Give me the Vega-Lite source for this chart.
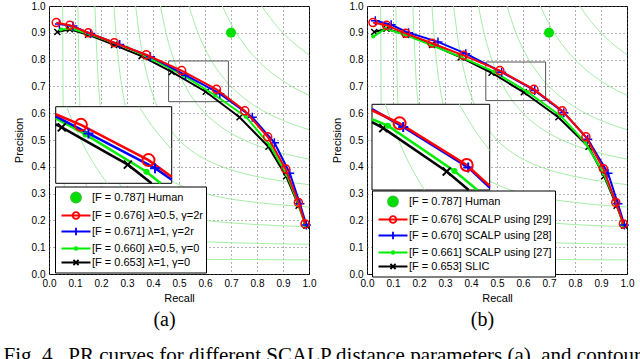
{
"$schema":"https://vega.github.io/schema/vega-lite/v6.json",
"padding":{"left":3,"top":0,"right":2,"bottom":0},
"spacing":13,
"resolve":{"scale":{"shape":"independent","stroke":"independent","fill":"independent"},"legend":{"shape":"independent","stroke":"independent","fill":"independent"}},
"title":{"text":"Fig. 4.\u00a0\u00a0PR curves for different SCALP distance parameters (a), and contour","orient":"bottom","anchor":"start","frame":"bounds","dx":-9,"offset":14,"font":"Liberation Serif","fontSize":21,"fontWeight":"normal","color":"black"},
"datasets":{
"iso":[
{"f":0.1,"r":0.0526,"p":1},{"f":0.1,"r":0.0542,"p":0.65},{"f":0.1,"r":0.0563,"p":0.45},{"f":0.1,"r":0.0583,"p":0.35},{"f":0.1,"r":0.0625,"p":0.25},{"f":0.1,"r":0.0667,"p":0.2},{"f":0.1,"r":0.0727,"p":0.16},{"f":0.1,"r":0.0813,"p":0.13},{"f":0.1,"r":0.09,"p":0.1125},{"f":0.1,"r":0.1,"p":0.1},{"f":0.1,"r":0.1125,"p":0.09},{"f":0.1,"r":0.13,"p":0.0813},{"f":0.1,"r":0.16,"p":0.0727},{"f":0.1,"r":0.2,"p":0.0667},{"f":0.1,"r":0.25,"p":0.0625},{"f":0.1,"r":0.35,"p":0.0583},{"f":0.1,"r":0.45,"p":0.0563},{"f":0.1,"r":0.65,"p":0.0542},{"f":0.1,"r":1,"p":0.0526},
{"f":0.2,"r":0.1111,"p":1},{"f":0.2,"r":0.1167,"p":0.7},{"f":0.2,"r":0.125,"p":0.5},{"f":0.2,"r":0.1333,"p":0.4},{"f":0.2,"r":0.1455,"p":0.32},{"f":0.2,"r":0.1625,"p":0.26},{"f":0.2,"r":0.18,"p":0.225},{"f":0.2,"r":0.2,"p":0.2},{"f":0.2,"r":0.225,"p":0.18},{"f":0.2,"r":0.26,"p":0.1625},{"f":0.2,"r":0.32,"p":0.1455},{"f":0.2,"r":0.4,"p":0.1333},{"f":0.2,"r":0.5,"p":0.125},{"f":0.2,"r":0.7,"p":0.1167},{"f":0.2,"r":1,"p":0.1111},
{"f":0.3,"r":0.1765,"p":1},{"f":0.3,"r":0.1875,"p":0.75},{"f":0.3,"r":0.2,"p":0.6},{"f":0.3,"r":0.2182,"p":0.48},{"f":0.3,"r":0.2438,"p":0.39},{"f":0.3,"r":0.27,"p":0.3375},{"f":0.3,"r":0.3,"p":0.3},{"f":0.3,"r":0.3375,"p":0.27},{"f":0.3,"r":0.39,"p":0.2438},{"f":0.3,"r":0.48,"p":0.2182},{"f":0.3,"r":0.6,"p":0.2},{"f":0.3,"r":0.75,"p":0.1875},{"f":0.3,"r":1,"p":0.1765},
{"f":0.4,"r":0.25,"p":1},{"f":0.4,"r":0.2571,"p":0.9},{"f":0.4,"r":0.2667,"p":0.8},{"f":0.4,"r":0.2909,"p":0.64},{"f":0.4,"r":0.325,"p":0.52},{"f":0.4,"r":0.36,"p":0.45},{"f":0.4,"r":0.4,"p":0.4},{"f":0.4,"r":0.45,"p":0.36},{"f":0.4,"r":0.52,"p":0.325},{"f":0.4,"r":0.64,"p":0.2909},{"f":0.4,"r":0.8,"p":0.2667},{"f":0.4,"r":0.9,"p":0.2571},{"f":0.4,"r":1,"p":0.25},
{"f":0.5,"r":0.3333,"p":1},{"f":0.5,"r":0.35,"p":0.875},{"f":0.5,"r":0.375,"p":0.75},{"f":0.5,"r":0.4063,"p":0.65},{"f":0.5,"r":0.45,"p":0.5625},{"f":0.5,"r":0.5,"p":0.5},{"f":0.5,"r":0.5625,"p":0.45},{"f":0.5,"r":0.65,"p":0.4063},{"f":0.5,"r":0.75,"p":0.375},{"f":0.5,"r":0.875,"p":0.35},{"f":0.5,"r":1,"p":0.3333},
{"f":0.6,"r":0.4286,"p":1},{"f":0.6,"r":0.45,"p":0.9},{"f":0.6,"r":0.4875,"p":0.78},{"f":0.6,"r":0.5308,"p":0.69},{"f":0.6,"r":0.5727,"p":0.63},{"f":0.6,"r":0.6,"p":0.6},{"f":0.6,"r":0.63,"p":0.5727},{"f":0.6,"r":0.69,"p":0.5308},{"f":0.6,"r":0.78,"p":0.4875},{"f":0.6,"r":0.9,"p":0.45},{"f":0.6,"r":1,"p":0.4286},
{"f":0.7,"r":0.5385,"p":1},{"f":0.7,"r":0.5688,"p":0.91},{"f":0.7,"r":0.6093,"p":0.8225},{"f":0.7,"r":0.6543,"p":0.7525},{"f":0.7,"r":0.7,"p":0.7},{"f":0.7,"r":0.7525,"p":0.6543},{"f":0.7,"r":0.8225,"p":0.6093},{"f":0.7,"r":0.91,"p":0.5688},{"f":0.7,"r":1,"p":0.5385},
{"f":0.8,"r":0.6667,"p":1},{"f":0.8,"r":0.7077,"p":0.92},{"f":0.8,"r":0.7478,"p":0.86},{"f":0.8,"r":0.781,"p":0.82},{"f":0.8,"r":0.8,"p":0.8},{"f":0.8,"r":0.82,"p":0.781},{"f":0.8,"r":0.86,"p":0.7478},{"f":0.8,"r":0.92,"p":0.7077},{"f":0.8,"r":1,"p":0.6667},
{"f":0.9,"r":0.8182,"p":1},{"f":0.9,"r":0.8518,"p":0.954},{"f":0.9,"r":0.8786,"p":0.9225},{"f":0.9,"r":0.9,"p":0.9},{"f":0.9,"r":0.9225,"p":0.8786},{"f":0.9,"r":0.954,"p":0.8518},{"f":0.9,"r":1,"p":0.8182}
],
"isoInA":[
{"f":0.6,"r":0.4818,"p":0.795},{"f":0.6,"r":0.49,"p":0.7737},{"f":0.6,"r":0.5,"p":0.75},{"f":0.6,"r":0.51,"p":0.7286},{"f":0.6,"r":0.52,"p":0.709},{"f":0.6,"r":0.54,"p":0.675},{"f":0.6,"r":0.5624,"p":0.643},
{"f":0.7,"r":0.6253,"p":0.795},{"f":0.7,"r":0.64,"p":0.7724},{"f":0.7,"r":0.65,"p":0.7583},{"f":0.7,"r":0.67,"p":0.7328},{"f":0.7,"r":0.69,"p":0.7103}
],
"isoInB":[
{"f":0.6,"r":0.4833,"p":0.791},{"f":0.6,"r":0.49,"p":0.7737},{"f":0.6,"r":0.5,"p":0.75},{"f":0.6,"r":0.51,"p":0.7286},{"f":0.6,"r":0.52,"p":0.709},{"f":0.6,"r":0.54,"p":0.675},{"f":0.6,"r":0.5594,"p":0.647},
{"f":0.7,"r":0.6278,"p":0.791},{"f":0.7,"r":0.64,"p":0.7724},{"f":0.7,"r":0.65,"p":0.7583},{"f":0.7,"r":0.67,"p":0.7328},{"f":0.7,"r":0.687,"p":0.7135}
],
"A":[
{"s":"r","r":0.028,"p":0.938},{"s":"r","r":0.08,"p":0.928},{"s":"r","r":0.151,"p":0.9},{"s":"r","r":0.251,"p":0.863},{"s":"r","r":0.374,"p":0.818},{"s":"r","r":0.51,"p":0.759},{"s":"r","r":0.644,"p":0.689},{"s":"r","r":0.753,"p":0.609},{"s":"r","r":0.841,"p":0.512},{"s":"r","r":0.91,"p":0.392},{"s":"r","r":0.959,"p":0.267},{"s":"r","r":0.985,"p":0.187},
{"s":"b","r":0.04,"p":0.933},{"s":"b","r":0.092,"p":0.925},{"s":"b","r":0.16,"p":0.897},{"s":"b","r":0.272,"p":0.856},{"s":"b","r":0.39,"p":0.811},{"s":"b","r":0.525,"p":0.742},{"s":"b","r":0.657,"p":0.673},{"s":"b","r":0.782,"p":0.585},{"s":"b","r":0.867,"p":0.49},{"s":"b","r":0.926,"p":0.376},{"s":"b","r":0.965,"p":0.262},{"s":"b","r":0.99,"p":0.183},
{"s":"g","r":0.045,"p":0.912},{"s":"g","r":0.09,"p":0.915},{"s":"g","r":0.16,"p":0.893},{"s":"g","r":0.3,"p":0.845},{"s":"g","r":0.4,"p":0.8},{"s":"g","r":0.519,"p":0.74},{"s":"g","r":0.64,"p":0.666},{"s":"g","r":0.757,"p":0.587},{"s":"g","r":0.85,"p":0.48},{"s":"g","r":0.915,"p":0.37},{"s":"g","r":0.96,"p":0.258},{"s":"g","r":0.985,"p":0.182},
{"s":"k","r":0.032,"p":0.903},{"s":"k","r":0.08,"p":0.913},{"s":"k","r":0.15,"p":0.893},{"s":"k","r":0.25,"p":0.855},{"s":"k","r":0.356,"p":0.813},{"s":"k","r":0.472,"p":0.754},{"s":"k","r":0.603,"p":0.68},{"s":"k","r":0.733,"p":0.585},{"s":"k","r":0.844,"p":0.475},{"s":"k","r":0.912,"p":0.365},{"s":"k","r":0.96,"p":0.255},{"s":"k","r":0.99,"p":0.18}
],
"B":[
{"s":"r","r":0.023,"p":0.938},{"s":"r","r":0.075,"p":0.928},{"s":"r","r":0.149,"p":0.898},{"s":"r","r":0.25,"p":0.861},{"s":"r","r":0.371,"p":0.816},{"s":"r","r":0.511,"p":0.759},{"s":"r","r":0.642,"p":0.689},{"s":"r","r":0.751,"p":0.609},{"s":"r","r":0.842,"p":0.512},{"s":"r","r":0.909,"p":0.393},{"s":"r","r":0.957,"p":0.267},{"s":"r","r":0.986,"p":0.187},
{"s":"b","r":0.032,"p":0.945},{"s":"b","r":0.093,"p":0.93},{"s":"b","r":0.16,"p":0.9},{"s":"b","r":0.273,"p":0.866},{"s":"b","r":0.38,"p":0.822},{"s":"b","r":0.518,"p":0.753},{"s":"b","r":0.645,"p":0.685},{"s":"b","r":0.757,"p":0.602},{"s":"b","r":0.849,"p":0.503},{"s":"b","r":0.927,"p":0.376},{"s":"b","r":0.965,"p":0.262},{"s":"b","r":0.99,"p":0.183},
{"s":"g","r":0.024,"p":0.886},{"s":"g","r":0.07,"p":0.915},{"s":"g","r":0.14,"p":0.895},{"s":"g","r":0.24,"p":0.857},{"s":"g","r":0.36,"p":0.81},{"s":"g","r":0.488,"p":0.755},{"s":"g","r":0.618,"p":0.679},{"s":"g","r":0.745,"p":0.59},{"s":"g","r":0.84,"p":0.49},{"s":"g","r":0.91,"p":0.375},{"s":"g","r":0.96,"p":0.262},{"s":"g","r":0.985,"p":0.182},
{"s":"k","r":0.028,"p":0.903},{"s":"k","r":0.075,"p":0.915},{"s":"k","r":0.15,"p":0.893},{"s":"k","r":0.25,"p":0.855},{"s":"k","r":0.36,"p":0.808},{"s":"k","r":0.479,"p":0.751},{"s":"k","r":0.603,"p":0.678},{"s":"k","r":0.736,"p":0.585},{"s":"k","r":0.852,"p":0.475},{"s":"k","r":0.912,"p":0.365},{"s":"k","r":0.96,"p":0.255},{"s":"k","r":0.99,"p":0.18}
],
"inA":[
{"s":"r","r":0.46,"p":0.78},{"s":"r","r":0.51,"p":0.759},{"s":"r","r":0.644,"p":0.689},{"s":"r","r":0.69,"p":0.656},
{"s":"b","r":0.46,"p":0.776},{"s":"b","r":0.525,"p":0.742},{"s":"b","r":0.657,"p":0.673},{"s":"b","r":0.69,"p":0.65},
{"s":"g","r":0.46,"p":0.772},{"s":"g","r":0.519,"p":0.74},{"s":"g","r":0.64,"p":0.666},{"s":"g","r":0.668,"p":0.643},
{"s":"k","r":0.46,"p":0.76},{"s":"k","r":0.472,"p":0.754},{"s":"k","r":0.603,"p":0.68},{"s":"k","r":0.65,"p":0.643}
],
"inB":[
{"s":"r","r":0.457,"p":0.781},{"s":"r","r":0.511,"p":0.759},{"s":"r","r":0.642,"p":0.689},{"s":"r","r":0.687,"p":0.654},
{"s":"b","r":0.457,"p":0.783},{"s":"b","r":0.518,"p":0.753},{"s":"b","r":0.645,"p":0.685},{"s":"b","r":0.687,"p":0.651},
{"s":"g","r":0.457,"p":0.766},{"s":"g","r":0.488,"p":0.755},{"s":"g","r":0.618,"p":0.679},{"s":"g","r":0.663,"p":0.647},
{"s":"k","r":0.457,"p":0.761},{"s":"k","r":0.479,"p":0.751},{"s":"k","r":0.603,"p":0.678},{"s":"k","r":0.646,"p":0.647}
],
"boxA":[{"r":0.46,"r2":0.69,"p":0.643,"p2":0.795}],
"boxB":[{"r":0.457,"r2":0.687,"p":0.647,"p2":0.791}],
"human":[{"r":0.7,"p":0.9}]
},
"hconcat":[
{
"width":260,"height":268,
"title":{"text":"(a)","orient":"bottom","frame":"bounds","anchor":"middle","font":"Liberation Serif","fontSize":20,"fontWeight":"normal","color":"black","offset":7},
"resolve":{"scale":{"x":"independent","y":"independent"}},
"layer":[
{
"encoding":{
"x":{"field":"r","type":"quantitative","scale":{"domain":[0,1],"nice":false,"zero":false},"axis":{"title":"Recall","values":[0,0.1,0.2,0.3,0.4,0.5,0.6,0.7,0.8,0.9,1],"format":".1f","titlePadding":4}},
"y":{"field":"p","type":"quantitative","scale":{"domain":[0,1],"nice":false,"zero":false},"axis":{"title":"Precision","values":[0,0.1,0.2,0.3,0.4,0.5,0.6,0.7,0.8,0.9,1],"format":".1f","titlePadding":7}}
},
"layer":[
{"data":{"name":"iso"},"mark":{"type":"line","interpolate":"monotone","color":"#a6eea6","strokeWidth":1},"encoding":{"detail":{"field":"f","type":"nominal"}}},
{"data":{"name":"boxA"},"mark":{"type":"rect","filled":false,"color":"#555555","strokeWidth":1},"encoding":{"x2":{"field":"r2"},"y2":{"field":"p2"}}},
{"data":{"name":"A"},"transform":[{"filter":{"field":"s","equal":"k"}}],"mark":{"type":"line","color":"#000000","strokeWidth":2,"point":{"shape":"M-1,-1L1,1M-1,1L1,-1","filled":false,"size":36,"strokeWidth":1.5,"color":"#000000","opacity":1}}},
{"data":{"name":"A"},"transform":[{"filter":{"field":"s","equal":"g"}}],"mark":{"type":"line","color":"#00ee00","strokeWidth":2,"point":{"shape":"circle","filled":true,"size":16,"color":"#00ee00","opacity":1}}},
{"data":{"name":"A"},"transform":[{"filter":{"field":"s","equal":"b"}}],"mark":{"type":"line","color":"#0000ff","strokeWidth":2,"point":{"shape":"M-1,0L1,0M0,-1L0,1","filled":false,"size":81,"strokeWidth":1.5,"color":"#0000ff","opacity":1}}},
{"data":{"name":"A"},"transform":[{"filter":{"field":"s","equal":"r"}}],"mark":{"type":"line","color":"#ff0000","strokeWidth":2,"point":{"shape":"M-1,0A1,1 0 1,0 1,0A1,1 0 1,0 -1,0Z","filled":false,"size":64,"strokeWidth":1.5,"color":"#ff0000","opacity":1}}},
{"data":{"name":"human"},"mark":{"type":"point","shape":"circle","filled":true,"size":100,"color":"#00e000","opacity":1}},
{"data":{"name":"A"},"transform":[{"filter":"false"}],"mark":{"type":"point","opacity":1},
"encoding":{
"shape":{"field":"s","type":"nominal","scale":{"domain":["[F = 0.787] Human","[F = 0.676] λ=0.5, γ=2r","[F = 0.671] λ=1, γ=2r","[F = 0.660] λ=0.5, γ=0","[F = 0.653] λ=1, γ=0"],"range":["M-0.745,0A0.745,0.745 0 1,0 0.745,0A0.745,0.745 0 1,0 -0.745,0Z","M-2.16,0L2.16,0M-0.5,0A0.5,0.5 0 1,0 0.5,0A0.5,0.5 0 1,0 -0.5,0Z","M-2.16,0L2.16,0M0,-0.55L0,0.55","M-2.16,0L2.16,0M-0.2,0A0.2,0.2 0 1,0 0.2,0A0.2,0.2 0 1,0 -0.2,0Z","M-2.16,0L2.16,0M-0.38,-0.38L0.38,0.38M-0.38,0.38L0.38,-0.38"]},"legend":{"orient":"none","legendX":6,"legendY":180.5,"title":null,"strokeColor":"black","fillColor":"white","padding":3,"symbolSize":180,"symbolStrokeWidth":1.8,"symbolOpacity":1,"labelFont":"Liberation Sans","labelFontSize":11,"labelColor":"black","rowPadding":1,"symbolOffset":10,"labelOffset":8,"labelLimit":300,"cornerRadius":0}},
"stroke":{"field":"s","type":"nominal","scale":{"domain":["[F = 0.787] Human","[F = 0.676] λ=0.5, γ=2r","[F = 0.671] λ=1, γ=2r","[F = 0.660] λ=0.5, γ=0","[F = 0.653] λ=1, γ=0"],"range":["#22cc22","#ff0000","#0000ff","#00ee00","#000000"]},"legend":{"orient":"none","legendX":6,"legendY":180.5,"title":null}},
"fill":{"field":"s","type":"nominal","scale":{"domain":["[F = 0.787] Human","[F = 0.676] λ=0.5, γ=2r","[F = 0.671] λ=1, γ=2r","[F = 0.660] λ=0.5, γ=0","[F = 0.653] λ=1, γ=0"],"range":["#00e000","transparent","transparent","transparent","transparent"]},"legend":{"orient":"none","legendX":6,"legendY":180.5,"title":null}}
}}
]
},
{
"encoding":{
"x":{"field":"r","type":"quantitative","scale":{"domain":[0.46,0.69],"range":[6.7,122.7],"nice":false,"zero":false},"axis":null},
"y":{"field":"p","type":"quantitative","scale":{"domain":[0.643,0.795],"range":[177.3,100.7],"nice":false,"zero":false},"axis":null}
},
"layer":[
{"data":{"name":"boxA"},"mark":{"type":"rect","fill":"white","stroke":"black","strokeWidth":1},"encoding":{"x2":{"field":"r2"},"y2":{"field":"p2"}}},
{"data":{"name":"isoInA"},"mark":{"type":"line","interpolate":"monotone","color":"#a6eea6","strokeWidth":1},"encoding":{"detail":{"field":"f","type":"nominal"}}},
{"data":{"name":"inA"},"transform":[{"filter":{"field":"s","equal":"k"}}],"mark":{"type":"line","color":"#000000","strokeWidth":2.5}},
{"data":{"name":"inA"},"transform":[{"filter":{"field":"s","equal":"g"}}],"mark":{"type":"line","color":"#00ee00","strokeWidth":2.5}},
{"data":{"name":"inA"},"transform":[{"filter":{"field":"s","equal":"b"}}],"mark":{"type":"line","color":"#0000ff","strokeWidth":2.5}},
{"data":{"name":"inA"},"transform":[{"filter":{"field":"s","equal":"r"}}],"mark":{"type":"line","color":"#ff0000","strokeWidth":2.5}},
{"data":{"name":"A"},"transform":[{"filter":{"and":[{"field":"s","equal":"k"},{"field":"r","range":[0.46,0.69]}]}}],"mark":{"type":"point","shape":"M-1,-1L1,1M-1,1L1,-1","filled":false,"size":64,"strokeWidth":2,"color":"#000000","opacity":1}},
{"data":{"name":"A"},"transform":[{"filter":{"and":[{"field":"s","equal":"g"},{"field":"r","range":[0.46,0.69]}]}}],"mark":{"type":"point","shape":"circle","filled":true,"size":36,"color":"#00ee00","opacity":1}},
{"data":{"name":"A"},"transform":[{"filter":{"and":[{"field":"s","equal":"b"},{"field":"r","range":[0.46,0.69]}]}}],"mark":{"type":"point","shape":"M-1,0L1,0M0,-1L0,1","filled":false,"size":100,"strokeWidth":2,"color":"#0000ff","opacity":1}},
{"data":{"name":"A"},"transform":[{"filter":{"and":[{"field":"s","equal":"r"},{"field":"r","range":[0.46,0.69]}]}}],"mark":{"type":"point","shape":"M-1,0A1,1 0 1,0 1,0A1,1 0 1,0 -1,0Z","filled":false,"size":144,"strokeWidth":2,"color":"#ff0000","opacity":1}}
]
}
]
},
{
"width":260,"height":268,
"title":{"text":"(b)","orient":"bottom","frame":"bounds","anchor":"middle","font":"Liberation Serif","fontSize":20,"fontWeight":"normal","color":"black","offset":7},
"resolve":{"scale":{"x":"independent","y":"independent"}},
"layer":[
{
"encoding":{
"x":{"field":"r","type":"quantitative","scale":{"domain":[0,1],"nice":false,"zero":false},"axis":{"title":"Recall","values":[0,0.1,0.2,0.3,0.4,0.5,0.6,0.7,0.8,0.9,1],"format":".1f","titlePadding":4}},
"y":{"field":"p","type":"quantitative","scale":{"domain":[0,1],"nice":false,"zero":false},"axis":{"title":"Precision","values":[0,0.1,0.2,0.3,0.4,0.5,0.6,0.7,0.8,0.9,1],"format":".1f","titlePadding":7}}
},
"layer":[
{"data":{"name":"iso"},"mark":{"type":"line","interpolate":"monotone","color":"#a6eea6","strokeWidth":1},"encoding":{"detail":{"field":"f","type":"nominal"}}},
{"data":{"name":"boxB"},"mark":{"type":"rect","filled":false,"color":"#555555","strokeWidth":1},"encoding":{"x2":{"field":"r2"},"y2":{"field":"p2"}}},
{"data":{"name":"B"},"transform":[{"filter":{"field":"s","equal":"k"}}],"mark":{"type":"line","color":"#000000","strokeWidth":2,"point":{"shape":"M-1,-1L1,1M-1,1L1,-1","filled":false,"size":36,"strokeWidth":1.5,"color":"#000000","opacity":1}}},
{"data":{"name":"B"},"transform":[{"filter":{"field":"s","equal":"g"}}],"mark":{"type":"line","color":"#00ee00","strokeWidth":2,"point":{"shape":"circle","filled":true,"size":16,"color":"#00ee00","opacity":1}}},
{"data":{"name":"B"},"transform":[{"filter":{"field":"s","equal":"b"}}],"mark":{"type":"line","color":"#0000ff","strokeWidth":2,"point":{"shape":"M-1,0L1,0M0,-1L0,1","filled":false,"size":81,"strokeWidth":1.5,"color":"#0000ff","opacity":1}}},
{"data":{"name":"B"},"transform":[{"filter":{"field":"s","equal":"r"}}],"mark":{"type":"line","color":"#ff0000","strokeWidth":2,"point":{"shape":"M-1,0A1,1 0 1,0 1,0A1,1 0 1,0 -1,0Z","filled":false,"size":64,"strokeWidth":1.5,"color":"#ff0000","opacity":1}}},
{"data":{"name":"human"},"mark":{"type":"point","shape":"circle","filled":true,"size":100,"color":"#00e000","opacity":1}},
{"data":{"name":"B"},"transform":[{"filter":"false"}],"mark":{"type":"point","opacity":1},
"encoding":{
"shape":{"field":"s","type":"nominal","scale":{"domain":["[F = 0.787] Human","[F = 0.676] SCALP using [29]","[F = 0.670] SCALP using [28]","[F = 0.661] SCALP using [27]","[F = 0.653] SLIC"],"range":["M-0.745,0A0.745,0.745 0 1,0 0.745,0A0.745,0.745 0 1,0 -0.745,0Z","M-2.16,0L2.16,0M-0.5,0A0.5,0.5 0 1,0 0.5,0A0.5,0.5 0 1,0 -0.5,0Z","M-2.16,0L2.16,0M0,-0.55L0,0.55","M-2.16,0L2.16,0M-0.2,0A0.2,0.2 0 1,0 0.2,0A0.2,0.2 0 1,0 -0.2,0Z","M-2.16,0L2.16,0M-0.38,-0.38L0.38,0.38M-0.38,0.38L0.38,-0.38"]},"legend":{"orient":"none","legendX":5,"legendY":184.5,"title":null,"strokeColor":"black","fillColor":"white","padding":3,"symbolSize":180,"symbolStrokeWidth":1.8,"symbolOpacity":1,"labelFont":"Liberation Sans","labelFontSize":11,"labelColor":"black","rowPadding":1,"symbolOffset":10,"labelOffset":8,"labelLimit":300,"cornerRadius":0}},
"stroke":{"field":"s","type":"nominal","scale":{"domain":["[F = 0.787] Human","[F = 0.676] SCALP using [29]","[F = 0.670] SCALP using [28]","[F = 0.661] SCALP using [27]","[F = 0.653] SLIC"],"range":["#22cc22","#ff0000","#0000ff","#00ee00","#000000"]},"legend":{"orient":"none","legendX":5,"legendY":184.5,"title":null}},
"fill":{"field":"s","type":"nominal","scale":{"domain":["[F = 0.787] Human","[F = 0.676] SCALP using [29]","[F = 0.670] SCALP using [28]","[F = 0.661] SCALP using [27]","[F = 0.653] SLIC"],"range":["#00e000","transparent","transparent","transparent","transparent"]},"legend":{"orient":"none","legendX":5,"legendY":184.5,"title":null}}
}}
]
},
{
"encoding":{
"x":{"field":"r","type":"quantitative","scale":{"domain":[0.457,0.687],"range":[5,122.7],"nice":false,"zero":false},"axis":null},
"y":{"field":"p","type":"quantitative","scale":{"domain":[0.647,0.791],"range":[184,98.3],"nice":false,"zero":false},"axis":null}
},
"layer":[
{"data":{"name":"boxB"},"mark":{"type":"rect","fill":"white","stroke":"black","strokeWidth":1},"encoding":{"x2":{"field":"r2"},"y2":{"field":"p2"}}},
{"data":{"name":"isoInB"},"mark":{"type":"line","interpolate":"monotone","color":"#a6eea6","strokeWidth":1},"encoding":{"detail":{"field":"f","type":"nominal"}}},
{"data":{"name":"inB"},"transform":[{"filter":{"field":"s","equal":"k"}}],"mark":{"type":"line","color":"#000000","strokeWidth":2.5}},
{"data":{"name":"inB"},"transform":[{"filter":{"field":"s","equal":"g"}}],"mark":{"type":"line","color":"#00ee00","strokeWidth":2.5}},
{"data":{"name":"inB"},"transform":[{"filter":{"field":"s","equal":"b"}}],"mark":{"type":"line","color":"#0000ff","strokeWidth":2.5}},
{"data":{"name":"inB"},"transform":[{"filter":{"field":"s","equal":"r"}}],"mark":{"type":"line","color":"#ff0000","strokeWidth":2.5}},
{"data":{"name":"B"},"transform":[{"filter":{"and":[{"field":"s","equal":"k"},{"field":"r","range":[0.457,0.687]}]}}],"mark":{"type":"point","shape":"M-1,-1L1,1M-1,1L1,-1","filled":false,"size":64,"strokeWidth":2,"color":"#000000","opacity":1}},
{"data":{"name":"B"},"transform":[{"filter":{"and":[{"field":"s","equal":"g"},{"field":"r","range":[0.457,0.687]}]}}],"mark":{"type":"point","shape":"circle","filled":true,"size":36,"color":"#00ee00","opacity":1}},
{"data":{"name":"B"},"transform":[{"filter":{"and":[{"field":"s","equal":"b"},{"field":"r","range":[0.457,0.687]}]}}],"mark":{"type":"point","shape":"M-1,0L1,0M0,-1L0,1","filled":false,"size":100,"strokeWidth":2,"color":"#0000ff","opacity":1}},
{"data":{"name":"B"},"transform":[{"filter":{"and":[{"field":"s","equal":"r"},{"field":"r","range":[0.457,0.687]}]}}],"mark":{"type":"point","shape":"M-1,0A1,1 0 1,0 1,0A1,1 0 1,0 -1,0Z","filled":false,"size":144,"strokeWidth":2,"color":"#ff0000","opacity":1}}
]
}
]
}
],
"config":{
"font":"Liberation Sans",
"view":{"stroke":"black","strokeWidth":1},
"axis":{"labelFont":"Liberation Sans","labelFontSize":10,"labelColor":"black","titleFont":"Liberation Sans","titleFontSize":11,"titleFontWeight":"normal","titleColor":"black","grid":true,"gridColor":"#555555","gridDash":[1,3],"gridOpacity":0.9,"domain":false,"ticks":false,"labelPadding":4,"labelFlush":false,"labelOverlap":false,"labelBound":false}
}
}
